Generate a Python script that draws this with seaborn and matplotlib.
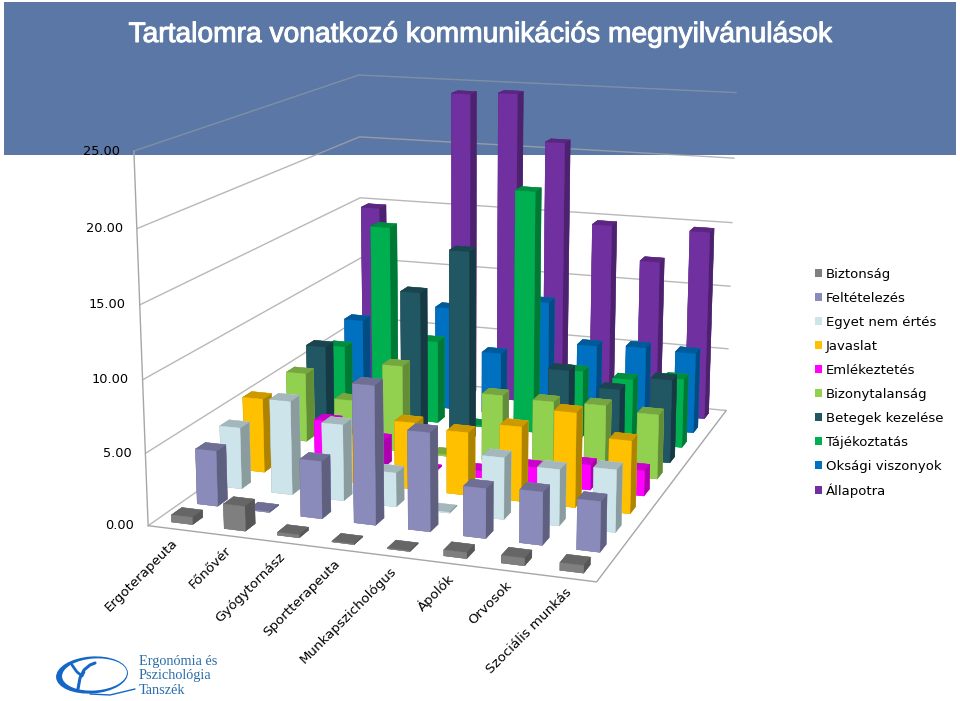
import numpy as np
import matplotlib
matplotlib.use('Agg')
import matplotlib.pyplot as plt
import matplotlib.patheffects as pe
import seaborn as sns
from matplotlib.patches import Patch, Rectangle, Ellipse
from mpl_toolkits.mplot3d import proj3d

categories = ['Ergoterapeuta', 'Főnővér', 'Gyógytornász', 'Sportterapeuta',
              'Munkapszichológus', 'Ápolók', 'Orvosok', 'Szociális munkás']
series_names = ['Biztonság', 'Feltételezés', 'Egyet nem értés', 'Javaslat', 'Emlékeztetés',
                'Bizonytalanság', 'Betegek kezelése', 'Tájékoztatás', 'Oksági viszonyok', 'Állapotra']
biztonsag = [0.5, 1.7, 0.2, 0.05, 0.05, 0.4, 0.5, 0.5]
feltetelezes = [3.9, 0.05, 4.0, 9.6, 6.8, 3.4, 3.6, 3.4]
egyet_nem = [4.4, 6.7, 5.4, 2.4, 0.05, 4.3, 3.9, 4.3]
javaslat = [5.4, 0.0, 3.5, 4.8, 4.5, 5.3, 6.7, 5.1]
emlekeztetes = [0.0, 3.0, 2.0, 0.1, 0.5, 1.2, 1.8, 1.8]
bizonytalansag = [5.2, 3.5, 6.5, 0.1, 5.0, 4.9, 5.0, 4.7]
betegek = [6.3, 0.0, 11.1, 14.5, 0.8, 6.2, 5.1, 6.2]
tajekoztatas = [5.3, 15.0, 6.4, 0.1, 18.5, 5.1, 4.8, 5.2]
oksagi = [6.5, 0.0, 8.1, 4.8, 9.2, 6.1, 6.3, 6.2]
allapotra = [14.8, 4.0, 24.3, 24.5, 20.9, 14.7, 12.1, 14.7]
series_values = [biztonsag, feltetelezes, egyet_nem, javaslat, emlekeztetes,
                 bizonytalansag, betegek, tajekoztatas, oksagi, allapotra]
series_colors = ['#7F7F7F', '#8B8BBB', '#CDE5EA', '#FFC000', '#FF00FF',
                 '#92D050', '#215663', '#00B050', '#0070C0', '#7030A0']
z_ticks = [0, 5, 10, 15, 20, 25]

sns.set_theme(style='white')
plt.rcParams['font.family'] = ['DejaVu Sans']
palette = sns.color_palette(series_colors)

fig = plt.figure(figsize=(9.6, 7.01), dpi=100)
fig.patches.append(Rectangle((4 / 960, 1 - 155 / 701), 952 / 960, 153 / 701, transform=fig.transFigure,
                             fc='#5A77A5', ec='none', figure=fig, zorder=-1))

# axes placed so that the 3d box falls on the walls of the original
side = 754.8
ax = fig.add_axes([74.23 / 960, (701 - 682.29) / 701, side / 960, side / 701], projection='3d')
ax.set_facecolor('none')
ax.set_axis_off()
ax.computed_zorder = False
n_cat, n_ser = len(categories), len(series_names)
ax.set_xlim(0, n_cat, view_margin=0)
ax.set_ylim(0, n_ser, view_margin=0)
ax.set_zlim(0, 25, view_margin=0)
ax.view_init(elev=13.669, azim=-70.99, roll=0)
ax.set_proj_type('persp', focal_length=0.5053)
ax.set_box_aspect((1.2242, 1.5263, 1))

grid = '#A6A6A6'
for z in z_ticks:
    ax.plot([0, 0, n_cat], [0, n_ser, n_ser], [z, z, z], color=grid, lw=1, alpha=0.5 if z == 25 else 0.8, zorder=1)
ax.plot([0, 0], [0, 0], [0, 25], color=grid, lw=1, zorder=1)
ax.plot([0, n_cat, n_cat], [0, 0, n_ser], [0, 0, 0], color=grid, lw=1, zorder=1)

bw = 0.40
order = 2
for j in range(n_ser - 1, -1, -1):
    base = np.array(palette[j])
    faces = [base * 0.8, base * 0.8, base, base, base * 0.68, base * 0.68]
    for i in range(n_cat):
        ax.bar3d(i + 0.5 - bw / 2, j + 0.5 - bw / 2, 0, bw, bw, series_values[j][i],
                 color=faces, edgecolor=faces, linewidth=0.3, shade=False, zorder=order)
        order += 1


def to_2d(x, y, z):
    px, py, _ = proj3d.proj_transform(x, y, z, ax.get_proj())
    return px, py


for z in z_ticks:
    ax.annotate('%.2f' % z, xy=to_2d(0, 0, z), xytext=(-10, 0), textcoords='offset points',
                ha='right', va='center', fontsize=9.3, color='black', zorder=500)
label_x = np.linspace(0.42, 7.45, n_cat)
for i, name in enumerate(categories):
    ax.annotate(name, xy=to_2d(label_x[i], 0, 0), xytext=(1, -6), textcoords='offset points', rotation=45,
                rotation_mode='anchor', ha='right', va='top', fontsize=9.6, color='black', zorder=500)

fig.text(481 / 960, 1 - 35 / 701, 'Tartalomra vonatkozó kommunikációs megnyilvánulások', color='white',
         fontsize=20.3, ha='center', va='center', family='Liberation Sans',
         path_effects=[pe.withStroke(linewidth=0.7, foreground='white')])

handles = [Patch(fc=c, ec='none') for c in palette]
fig.legend(handles, series_names, loc='upper left', bbox_to_anchor=(815 / 960, 1 - 268 / 701), frameon=False,
           fontsize=9.5, borderpad=0, borderaxespad=0, handlelength=0.55, handleheight=0.55,
           handletextpad=0.25, labelspacing=0.83, labelcolor='black')

# logo
logo = fig.add_axes([0, 0, 1, 1])
logo.set_xlim(0, 960)
logo.set_ylim(701, 0)
logo.axis('off')
blue = '#1567C6'
logo.add_patch(Ellipse((92, 675), 72, 37, angle=-4, fc=blue, ec='none'))
logo.add_patch(Ellipse((94.5, 674.5), 65, 32, angle=-4, fc='white', ec='none'))
logo.plot([90, 110, 135], [694, 695, 689], color=blue, lw=1)
logo.plot([78, 80, 84, 90, 95], [689, 678, 670, 665, 663], color=blue, lw=2.2)
logo.plot([72, 77, 82, 84], [665, 672, 676, 672], color=blue, lw=2)
for txt, y in zip(['Ergonómia és', 'Pszichológia', 'Tanszék'], [661, 676, 691]):
    logo.text(139, y, txt, color='#2A6DA8', fontsize=10.3, ha='left', va='center',
              family='Liberation Serif')

fig.savefig('out.png', dpi=100)
